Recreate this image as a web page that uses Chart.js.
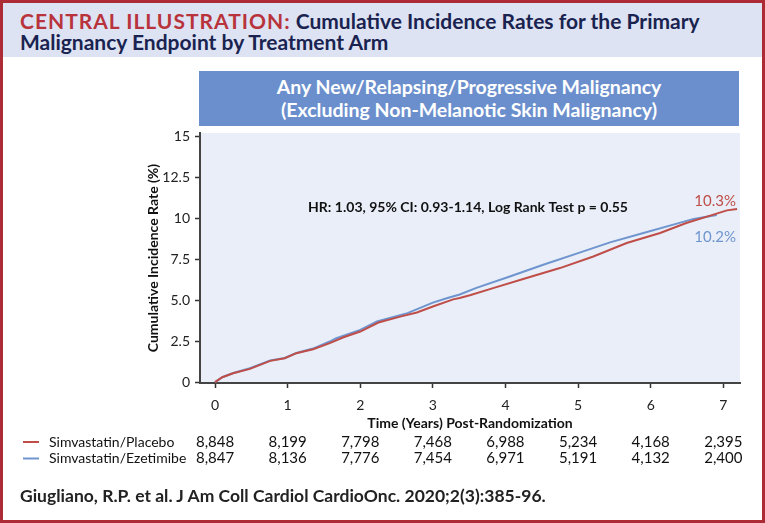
<!DOCTYPE html>
<html>
<head>
<meta charset="utf-8">
<script src="https://cdn.jsdelivr.net/npm/chart.js@4"></script>
<style>
  html, body { margin: 0; padding: 0; background: #fff; }
  #page { position: relative; width: 765px; height: 523px; overflow: hidden; font-family: Lato, "Open Sans", sans-serif; }
  #hdr { position: absolute; left: 0; top: 0; width: 765px; height: 57px; background: #dde3f3; }
  #hdr div { position: absolute; left: 20px; font-weight: bold; font-size: 21px; color: #1a2350; white-space: nowrap; line-height: 22px; }
  #hdr .red { color: #b8333b; letter-spacing: 1px; }
  #banner { position: absolute; left: 199px; top: 71px; width: 540px; height: 55px; background: #6b8fcd; color: #fff;
            text-align: center; font-size: 19.5px; font-weight: bold; line-height: 23px; padding-top: 4px; box-sizing: border-box; }
  #box { position: absolute; left: 0; top: 0; width: 765px; height: 523px; }
  #cite { position: absolute; left: 20px; top: 485px; font-size: 17.5px; font-weight: bold; color: #222; white-space: nowrap; }
  #frame { position: absolute; left: 0; top: 0; width: 765px; height: 523px; border: 3px solid #ad2b35; box-sizing: border-box; pointer-events: none; }
</style>
</head>
<body>
<div id="page">
  <div id="hdr">
    <div style="top:10px"><span class="red">CENTRAL ILLUSTRATION:</span> Cumulative Incidence Rates for the Primary</div>
    <div style="top:31px">Malignancy Endpoint by Treatment Arm</div>
  </div>
  <div id="banner">Any New/Relapsing/Progressive Malignancy<br>(Excluding Non-Melanotic Skin Malignancy)</div>
  <div id="box"><canvas id="km"></canvas></div>
  <div id="cite">Giugliano, R.P. et al. J Am Coll Cardiol CardioOnc. 2020;2(3):385-96.</div>
  <div id="frame"></div>
</div>
<script>
const FONT = 'Lato, "Open Sans", sans-serif';

// cumulative incidence (%)
const placeboYears = [0, 0.1, 0.25, 0.48, 0.76, 0.96, 1.12, 1.35, 1.58, 1.77, 2.0, 2.25, 2.55, 2.78, 3.0, 3.28, 3.37, 3.51, 3.83, 4.29, 4.75, 5.21, 5.67, 6.13, 6.49, 6.82, 7.05, 7.19];
const placeboRate  = [0, 0.3, 0.54, 0.81, 1.3, 1.46, 1.77, 2.01, 2.38, 2.74, 3.09, 3.64, 4.0, 4.25, 4.62, 5.05, 5.13, 5.3, 5.74, 6.35, 6.96, 7.67, 8.49, 9.1, 9.71, 10.16, 10.48, 10.57];
const ezetYears = [0, 0.1, 0.25, 0.48, 0.76, 0.96, 1.12, 1.35, 1.58, 1.67, 2.0, 2.23, 2.65, 3.0, 3.19, 3.37, 3.6, 4.06, 4.52, 4.98, 5.44, 5.9, 6.36, 6.59, 6.91];
const ezetRate  = [0, 0.3, 0.56, 0.85, 1.32, 1.48, 1.78, 2.05, 2.48, 2.68, 3.19, 3.7, 4.21, 4.85, 5.12, 5.35, 5.75, 6.45, 7.16, 7.84, 8.53, 9.1, 9.67, 9.96, 10.2];

const seriesNames = ['Simvastatin/Placebo', 'Simvastatin/Ezetimibe'];
const seriesColors = ['#bf4e48', '#6f95cf'];
const endLabels = ['10.3%', '10.2%'];

const xTicks = [0, 1, 2, 3, 4, 5, 6, 7];
const yTicks = [0, 2.5, 5, 7.5, 10, 12.5, 15];
const yTickLabels = ['0', '2.5', '5.0', '7.5', '10', '12.5', '15'];

// numbers at risk, one per x tick
const atRiskPlacebo = ['8,848', '8,199', '7,798', '7,468', '6,988', '5,234', '4,168', '2,395'];
const atRiskEzet    = ['8,847', '8,136', '7,776', '7,454', '6,971', '5,191', '4,132', '2,400'];

const hrText = 'HR: 1.03, 95% CI: 0.93-1.14, Log Rank Test p = 0.55';

function pts(xs, ys) { return xs.map((x, i) => ({x: x, y: ys[i]})); }

const extras = {
  id: 'extras',
  beforeDraw(chart) {
    const {ctx, chartArea: a} = chart;
    ctx.save();
    ctx.fillStyle = '#e9eef8';
    ctx.fillRect(a.left, a.top, a.right - a.left, a.bottom - a.top);
    ctx.restore();
  },
  afterDraw(chart) {
    const ctx = chart.ctx;
    const xs = chart.scales.x;
    ctx.save();
    // HR annotation
    ctx.font = 'bold 14px ' + FONT;
    ctx.fillStyle = '#111';
    ctx.textAlign = 'center';
    ctx.textBaseline = 'middle';
    ctx.fillText(hrText, 468, 207);
    // end labels
    ctx.font = '15px ' + FONT;
    ctx.textAlign = 'right';
    ctx.fillStyle = seriesColors[0];
    ctx.fillText(endLabels[0], 736, 201);
    ctx.fillStyle = seriesColors[1];
    ctx.fillText(endLabels[1], 736, 237);
    // numbers at risk table
    const rows = [atRiskPlacebo, atRiskEzet];
    const rowY = [442, 458.5];
    rows.forEach((row, r) => {
      ctx.strokeStyle = seriesColors[r];
      ctx.lineWidth = 2;
      ctx.beginPath();
      ctx.moveTo(23, rowY[r]);
      ctx.lineTo(39, rowY[r]);
      ctx.stroke();
      ctx.fillStyle = '#111';
      ctx.font = '14px ' + FONT;
      ctx.textAlign = 'left';
      ctx.fillText(seriesNames[r], 49, rowY[r]);
      ctx.font = '15px ' + FONT;
      ctx.textAlign = 'center';
      row.forEach((v, i) => ctx.fillText(v, xs.getPixelForValue(xTicks[i]), rowY[r]));
    });
    ctx.restore();
  }
};

new Chart(document.getElementById('km'), {
  type: 'line',
  data: {
    datasets: [{
      label: seriesNames[0],
      data: pts(placeboYears, placeboRate),
      borderColor: seriesColors[0],
      borderWidth: 2,
      pointRadius: 0,
      tension: 0
    }, {
      label: seriesNames[1],
      data: pts(ezetYears, ezetRate),
      borderColor: seriesColors[1],
      borderWidth: 2,
      pointRadius: 0,
      tension: 0,
      order: 1
    }]
  },
  options: {
    responsive: true,
    maintainAspectRatio: false,
    animation: false,
    layout: { padding: { left: 128, top: 133, right: 25, bottom: 83 } },
    plugins: { legend: { display: false }, tooltip: { enabled: false } },
    scales: {
      x: {
        type: 'linear',
        min: -0.207,
        max: 7.23,
        afterFit: s => { s.height = 57; },
        afterBuildTicks: s => { s.ticks = xTicks.map(v => ({value: v})); },
        grid: { drawOnChartArea: false, tickLength: 5, color: '#333', tickWidth: 1.5 },
        border: { color: '#444', width: 2 },
        ticks: { color: '#222', font: { family: FONT, size: 14 }, padding: 9, maxRotation: 0 },
        title: { display: true, text: 'Time (Years) Post-Randomization', color: '#111',
                 font: { family: FONT, size: 14, weight: 'bold' }, padding: { top: 0, bottom: 8 } }
      },
      y: {
        min: -0.05,
        max: 15.2,
        afterFit: s => { s.width = 72; },
        afterBuildTicks: s => { s.ticks = yTicks.map(v => ({value: v})); },
        grid: { drawOnChartArea: false, tickLength: 5, color: '#333', tickWidth: 1.5 },
        border: { color: '#444', width: 2 },
        ticks: { color: '#222', font: { family: FONT, size: 14 }, padding: 5,
                 callback: v => yTickLabels[yTicks.indexOf(v)] },
        title: { display: true, text: 'Cumulative Incidence Rate (%)', color: '#111',
                 font: { family: FONT, size: 14, weight: 'bold' }, padding: { top: 17, bottom: 0 } }
      }
    }
  },
  plugins: [extras]
});
</script>
</body>
</html>
